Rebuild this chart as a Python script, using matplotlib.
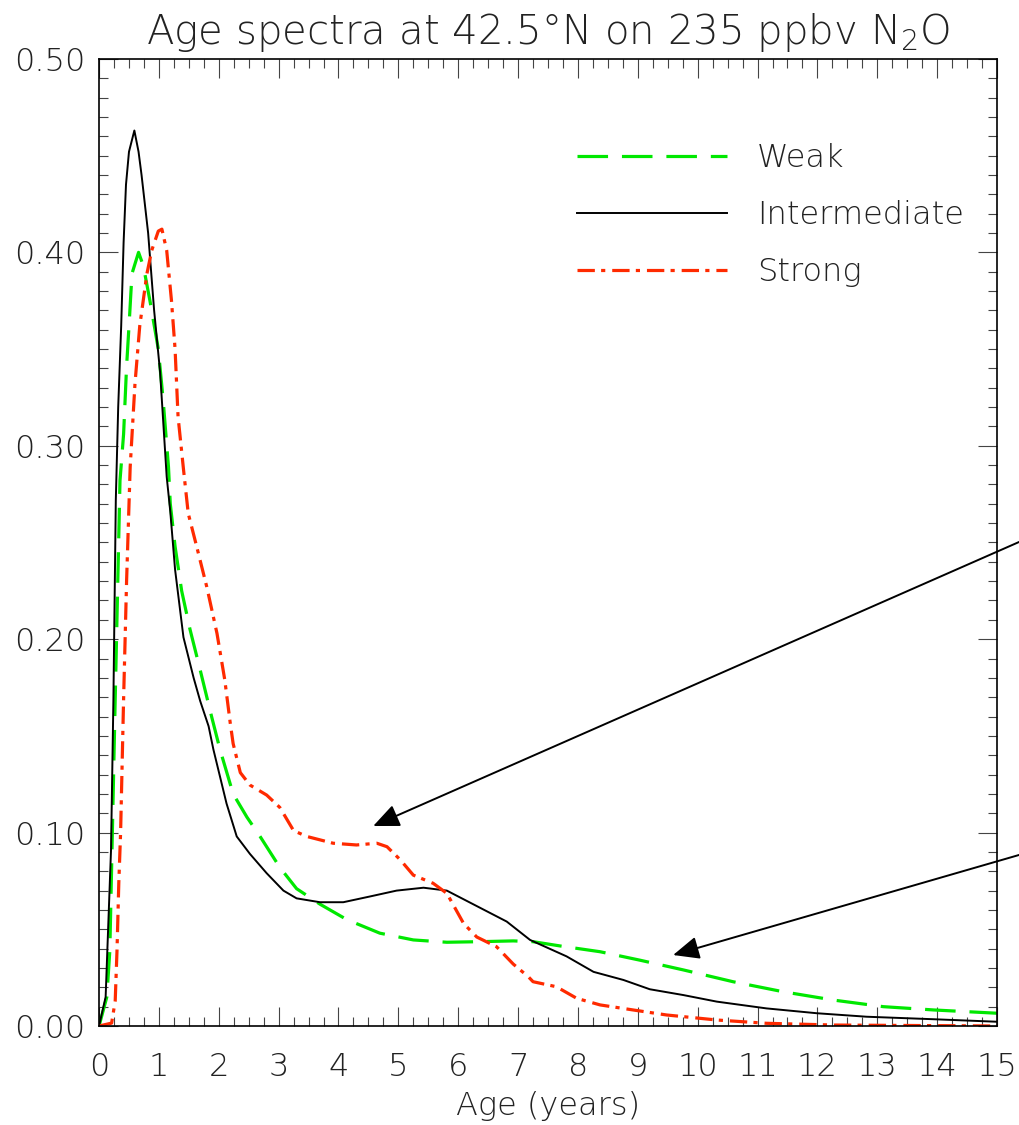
import matplotlib
matplotlib.use("Agg")
import matplotlib.pyplot as plt
from matplotlib.ticker import MultipleLocator, FormatStrFormatter

# age spectra (age in years, spectrum value)
age_weak = [0, 0.13, 0.18, 0.21, 0.27, 0.35, 0.41, 0.46, 0.51, 0.55, 0.66, 0.74, 0.85, 0.99, 1.07,
            1.16, 1.19, 1.27, 1.38, 1.52, 1.69, 1.88, 2.02, 2.24, 2.47, 2.69, 3.02, 3.30, 3.69, 4.14,
            4.69, 5.25, 5.81, 6.36, 6.92, 7.25, 7.70, 8.37, 9.04, 9.76, 10.59, 11.43, 12.27, 13.10,
            13.94, 15.0]
val_weak = [0, 0.015, 0.039, 0.082, 0.169, 0.282, 0.306, 0.341, 0.367, 0.389, 0.400, 0.393, 0.375,
            0.350, 0.324, 0.289, 0.270, 0.248, 0.225, 0.205, 0.184, 0.160, 0.143, 0.120, 0.108, 0.098,
            0.082, 0.071, 0.063, 0.055, 0.048, 0.0445, 0.0433, 0.0436, 0.044, 0.0436, 0.0414, 0.0384,
            0.034, 0.029, 0.0229, 0.0177, 0.0134, 0.010, 0.0083, 0.0066]

age_inter = [0, 0.11, 0.20, 0.24, 0.28, 0.32, 0.37, 0.41, 0.45, 0.50, 0.59, 0.66, 0.71, 0.82, 0.92,
             1.02, 1.13, 1.19, 1.27, 1.41, 1.58, 1.69, 1.83, 1.91, 2.13, 2.30, 2.52, 2.80, 3.08, 3.30,
             3.69, 4.08, 4.53, 4.97, 5.42, 5.81, 6.31, 6.81, 7.20, 7.81, 8.26, 8.76, 9.20, 9.76, 10.32,
             11.15, 11.99, 12.82, 13.94, 15.0]
val_inter = [0, 0.015, 0.091, 0.169, 0.272, 0.320, 0.362, 0.405, 0.435, 0.452, 0.463, 0.452, 0.440,
             0.410, 0.370, 0.338, 0.284, 0.266, 0.236, 0.201, 0.180, 0.168, 0.155, 0.143, 0.115, 0.098,
             0.089, 0.079, 0.070, 0.066, 0.064, 0.064, 0.067, 0.070, 0.0715, 0.070, 0.062, 0.054,
             0.0445, 0.036, 0.028, 0.0238, 0.019, 0.016, 0.0126, 0.0091, 0.0066, 0.0048, 0.0035, 0.0022]

age_strong = [0, 0.21, 0.27, 0.30, 0.33, 0.36, 0.41, 0.46, 0.52, 0.60, 0.68, 0.80, 0.88, 0.99, 1.05,
              1.13, 1.21, 1.27, 1.32, 1.41, 1.49, 1.63, 1.80, 1.97, 2.10, 2.19, 2.24, 2.36, 2.52, 2.80,
              3.02, 3.25, 3.47, 3.91, 4.30, 4.64, 4.81, 5.03, 5.25, 5.58, 5.81, 6.09, 6.31, 6.64, 6.92,
              7.17, 7.25, 7.64, 7.98, 8.37, 8.92, 9.48, 10.32, 11.15, 12.27, 15.0]
val_strong = [0, 0.0015, 0.013, 0.039, 0.074, 0.100, 0.169, 0.230, 0.289, 0.332, 0.362, 0.389, 0.401,
              0.411, 0.412, 0.401, 0.375, 0.350, 0.315, 0.288, 0.265, 0.248, 0.227, 0.203, 0.179, 0.157,
              0.146, 0.131, 0.1246, 0.1194, 0.113, 0.101, 0.098, 0.0945, 0.0936, 0.0945, 0.0927, 0.086,
              0.078, 0.0738, 0.0686, 0.053, 0.046, 0.041, 0.032, 0.0255, 0.0229, 0.0203, 0.0143, 0.0109,
              0.0083, 0.0057, 0.0031, 0.0014, 0.0005, 0]

labels = ['Weak', 'Intermediate', 'Strong']

# arrows: head point and tail point (tail sits just outside the figure)
arrow_heads = [(4.58, 0.1034), (9.59, 0.0367)]
arrow_tails = [(15.6, 0.2534), (15.6, 0.0905)]

plt.rcParams['font.family'] = ['DejaVu Sans']
plt.rcParams['font.weight'] = 'light'
plt.rcParams['axes.titleweight'] = 'light'
plt.rcParams['axes.labelweight'] = 'light'
plt.rcParams['mathtext.default'] = 'regular'
plt.rcParams['lines.scale_dashes'] = False

fig = plt.figure(figsize=(10.19, 11.25), dpi=100)
ax = fig.add_axes([0.0972, 0.088, 0.8812, 0.8596])

ax.plot(age_weak, val_weak, color='#00e800', linewidth=2.3, dashes=(22, 10), label=labels[0])
ax.plot(age_inter, val_inter, color='black', linewidth=1.4, label=labels[1])
ax.plot(age_strong, val_strong, color='#ff2a00', linewidth=2.3, dashes=(12.5, 4.5, 3, 5), label=labels[2])

for head, tail in zip(arrow_heads, arrow_tails):
	ax.annotate('', xy=head, xytext=tail, annotation_clip=False,
				arrowprops=dict(arrowstyle='-|>,head_length=0.8,head_width=0.35', mutation_scale=20,
								color='black', lw=1.4, shrinkA=0, shrinkB=0))

#axis ranges and ticks
ax.set_xlim(0, 15)
ax.set_ylim(0, 0.5)
ax.xaxis.set_major_locator(MultipleLocator(1))
ax.xaxis.set_minor_locator(MultipleLocator(0.25))
ax.yaxis.set_major_locator(MultipleLocator(0.1))
ax.yaxis.set_minor_locator(MultipleLocator(0.01))
ax.yaxis.set_major_formatter(FormatStrFormatter('%.2f'))
ax.tick_params(which='both', direction='in', top=True, right=True, width=0.8, colors='#444444',
			   labelcolor='#222222', labelsize=23)
ax.tick_params(which='major', length=13.5)
ax.tick_params(which='minor', length=6.8)
ax.tick_params(axis='x', pad=19)
ax.tick_params(axis='y', pad=10)
for s in ax.spines.values():
	s.set_linewidth(1.2)

ax.set_xlabel('Age (years)', fontsize=23, color='#222222', labelpad=6)
ax.set_title('Age spectra at 42.5°N on 235 ppbv N$_2$O', fontsize=29, color='#222222', pad=11)

ax.legend(loc='upper left', bbox_to_anchor=(0.532, 0.913), frameon=False, fontsize=23,
		  handlelength=4.7, handletextpad=0.95, labelspacing=0.85, borderpad=0, borderaxespad=0,
		  labelcolor='#222222')

fig.savefig('out.png', dpi=100)
